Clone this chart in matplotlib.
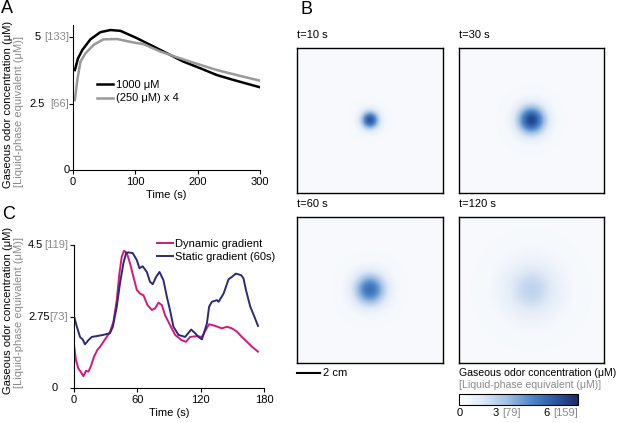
import numpy as np
import matplotlib.pyplot as plt
from matplotlib.colors import LinearSegmentedColormap

plt.rcParams['font.family'] = ['Liberation Sans', 'DejaVu Sans']
plt.rcParams['font.size'] = 8

# ---- panel A : odor concentration over time ----
time_a_1000 = [3, 8, 15, 28, 44, 60, 76, 101, 124, 151, 177, 204, 231, 257, 300]
conc_1000 = [3.77, 4.21, 4.53, 4.93, 5.2, 5.28, 5.25, 4.99, 4.72, 4.40, 4.09, 3.84, 3.58, 3.40, 3.12]
time_a_250 = [3, 7, 12, 20, 33, 49, 71, 97, 113, 140, 167, 193, 231, 268, 300]
conc_250x4 = [2.64, 3.4, 4.09, 4.40, 4.72, 4.93, 4.94, 4.81, 4.75, 4.47, 4.25, 4.05, 3.77, 3.55, 3.37]

# ---- panel C : dynamic vs static gradient ----
time_dyn = [0, 1.9, 4.1, 6.3, 8.9, 11.4, 13.6, 15.8, 19, 22.1, 24.7, 27.8, 31, 34.2, 37.3,
            40.5, 43, 45.2, 47.4, 50, 53.1, 56.3, 59.5, 62.6, 65.8, 69.6, 73.7, 76.9, 80,
            83.2, 86.3, 91, 95.8, 102, 106, 110, 116.4, 121.2, 125, 128, 133.8, 140, 144.9,
            149.6, 154.4, 159, 163.9, 168.6, 174.3]
conc_dyn = [2.05, 1.68, 1.48, 1.40, 1.29, 1.42, 1.40, 1.52, 1.77, 1.93, 2.01, 2.13, 2.25, 2.38,
            2.62, 3.15, 3.80, 4.21, 4.36, 4.31, 4.05, 3.72, 3.40, 3.31, 3.27, 3.03, 2.91, 2.95,
            3.09, 3.03, 2.78, 2.54, 2.30, 2.17, 2.13, 2.25, 2.27, 2.25, 2.43, 2.56, 2.52, 2.46,
            2.50, 2.46, 2.38, 2.25, 2.13, 2.01, 1.89]
time_sta = [0, 2.5, 5.7, 8.2, 10.4, 13.6, 16.8, 21.5, 27.8, 34, 36.7, 40.5, 43.6, 46.8, 49.3,
            51.5, 55.7, 59.5, 62, 65, 69, 72, 74.6, 77.8, 81, 84.7, 88, 91, 94.2, 99, 105.3,
            111, 114.8, 118, 121.2, 125.9, 128, 130.6, 135.4, 137, 141.7, 146.4, 149.6, 153.4,
            158.4, 160.6, 162.9, 167, 171, 174.3]
conc_sta = [2.76, 2.52, 2.25, 2.19, 2.07, 2.17, 2.25, 2.27, 2.30, 2.34, 2.49, 2.99, 3.57, 4.05,
            4.3, 4.32, 4.30, 4.13, 3.93, 3.98, 3.84, 3.6, 3.54, 3.72, 3.84, 3.64, 3.23, 2.9, 2.50,
            2.30, 2.25, 2.43, 2.34, 2.25, 2.19, 2.58, 2.99, 3.11, 3.15, 3.11, 3.31, 3.66, 3.72,
            3.8, 3.76, 3.68, 3.4, 2.99, 2.74, 2.52]

# ---- panel B : snapshots of the arena ----
snap_labels = ['t=10 s', 't=30 s', 't=60 s', 't=120 s']
peak_conc = [5.4, 5.9, 4.6, 1.8]
spread_cm = [0.55, 0.85, 0.95, 1.6]
background_conc = 0.35
arena_cm = 12.7

GRAY = '#8a8a8a'
PX = 0.72  # pixels -> points at dpi 100

fig = plt.figure(figsize=(6.17, 4.23), dpi=100)
W, H = 617.0, 423.0


def box(l, t, r, b):
    return [l / W, 1 - b / H, (r - l) / W, (b - t) / H]


def style_axes(ax):
    for s in ['top', 'right']:
        ax.spines[s].set_visible(False)
    for s in ['left', 'bottom']:
        ax.spines[s].set_linewidth(0.8)
    ax.tick_params(direction='out', length=3, width=0.8, pad=2)


def ylabels(ax, vals, nums, brs, num_dx, br_dx):
    ax.set_yticks(vals)
    ax.set_yticklabels([''] * len(vals))
    for v, n, b, nd in zip(vals, nums, brs, num_dx):
        ax.annotate(n, xy=(0, v), xycoords=('axes fraction', 'data'), xytext=(nd * PX, 0),
                    textcoords='offset points', ha='right', va='center', annotation_clip=False)
        if b:
            ax.annotate(b, xy=(0, v), xycoords=('axes fraction', 'data'), xytext=(br_dx * PX, 0),
                        textcoords='offset points', ha='right', va='center', color=GRAY,
                        annotation_clip=False)


# panel A
axA = fig.add_axes(box(73, 25, 260, 170))
style_axes(axA)
axA.plot(time_a_1000, conc_1000, color='black', lw=1.8, label='1000 \u03bcM')
axA.plot(time_a_250, conc_250x4, color='#999999', lw=1.8, label='(250 \u03bcM) x 4')
axA.set_xlim(0, 300)
axA.set_ylim(0, 5.47)
axA.set_xticks([0, 100, 200, 300])
axA.set_xlabel('Time (s)', labelpad=2)
ylabels(axA, [0, 2.5, 5], ['0', '2.5', '5'], ['', '[66]', '[133]'], [-3, -28, -32], -4)
axA.legend(loc='upper left', bbox_to_anchor=(0.13, 0.62), frameon=False, borderpad=0,
           borderaxespad=0, handlelength=1.45, handletextpad=0.2, labelspacing=0.3,
           fontsize=8)

# panel C
axC = fig.add_axes(box(74, 245, 264, 388))
style_axes(axC)
axC.plot(time_dyn, conc_dyn, color='#d3177f', lw=1.4, label='Dynamic gradient')
axC.plot(time_sta, conc_sta, color='#2a2a7c', lw=1.4, label='Static gradient (60s)')
axC.set_xlim(0, 180)
axC.set_ylim(1, 4.5)
axC.set_xticks([0, 60, 120, 180])
axC.set_xlabel('Time (s)', labelpad=2)
ylabels(axC, [1, 2.75, 4.5], ['0', '2.75', '4.5'], ['', '[73]', '[119]'], [-16, -24, -31], -6)
axC.legend(loc='upper left', bbox_to_anchor=(0.435, 1.045), frameon=False, borderpad=0,
           borderaxespad=0, handlelength=1.45, handletextpad=0.2, labelspacing=0.3,
           fontsize=8)

for yc_black, yc_gray in [(104, 111), (310, 312)]:
    fig.text(8 / W, 1 - yc_black / H, 'Gaseous odor concentration (\u03bcM)', rotation=90,
             ha='center', va='center')
    fig.text(19 / W, 1 - yc_gray / H, '[Liquid-phase equivalent (\u03bcM)]', rotation=90,
             ha='center', va='center', color=GRAY)

# panel B
cmap = LinearSegmentedColormap.from_list(
    'odor', ['#ffffff', '#dfe9f6', '#a2c1e4', '#5189c8', '#2d5aa6', '#1b2a6b'])
grid = np.linspace(0, arena_cm, 241)
gx, gy = np.meshgrid(grid, grid)
r2 = (gx - arena_cm / 2) ** 2 + (gy - arena_cm / 2) ** 2

boxes = [(297, 48, 443, 193), (459, 48, 604, 193), (297, 217, 443, 363), (459, 217, 604, 363)]
img_axes = []
for (l, t, r, b), lab, pk, sd in zip(boxes, snap_labels, peak_conc, spread_cm):
    ax = fig.add_axes(box(l, t, r, b))
    field = background_conc + pk * np.exp(-r2 / (2 * sd ** 2))
    im = ax.imshow(field, cmap=cmap, vmin=0, vmax=7, extent=[0, arena_cm, 0, arena_cm],
                   origin='lower', aspect='auto', interpolation='bilinear')
    ax.set_xticks([])
    ax.set_yticks([])
    for s in ax.spines.values():
        s.set_linewidth(1.0)
    ax.annotate(lab, xy=(0, 1), xycoords='axes fraction', xytext=(0, 13 * PX),
                textcoords='offset points', ha='left', va='center')
    img_axes.append(ax)

# scale bar (2 cm)
sb_ax = img_axes[2]
sb_ax.plot([0, 2], [-0.87, -0.87], color='black', lw=1.5, clip_on=False)
sb_ax.text(2.25, -0.87, '2 cm', ha='left', va='center')
sb_ax.set_xlim(0, arena_cm)
sb_ax.set_ylim(0, arena_cm)

# colorbar
cax = fig.add_axes(box(459, 394, 578, 405))
cb = fig.colorbar(im, cax=cax, orientation='horizontal')
cb.set_ticks([])
cb.outline.set_linewidth(0.8)
fig.text(459 / W, 1 - 373 / H, 'Gaseous odor concentration (\u03bcM)', ha='left', va='center',
         fontsize=7.6)
fig.text(459 / W, 1 - 385 / H, '[Liquid-phase equivalent (\u03bcM)]', ha='left', va='center',
         color=GRAY, fontsize=7.6)
for v, n, b in [(0, '0', ''), (3, '3', '[79]'), (6, '6', '[159]')]:
    if b:
        cax.annotate(n, xy=(v, 0), xycoords=('data', 'axes fraction'), xytext=(-11 * PX, -8 * PX),
                     textcoords='offset points', ha='right', va='center', annotation_clip=False)
        cax.annotate(b, xy=(v, 0), xycoords=('data', 'axes fraction'), xytext=(-8 * PX, -8 * PX),
                     textcoords='offset points', ha='left', va='center', color=GRAY,
                     annotation_clip=False)
    else:
        cax.annotate(n, xy=(v, 0), xycoords=('data', 'axes fraction'), xytext=(1 * PX, -8 * PX),
                     textcoords='offset points', ha='center', va='center', annotation_clip=False)

# panel letters
fig.text(1 / W, 1 - 13 / H, 'A', fontsize=13, va='baseline')
fig.text(300 / W, 1 - 14 / H, 'B', fontsize=13, va='baseline')
fig.text(2 / W, 1 - 219 / H, 'C', fontsize=13, va='baseline')

fig.savefig('out.png', dpi=100)
